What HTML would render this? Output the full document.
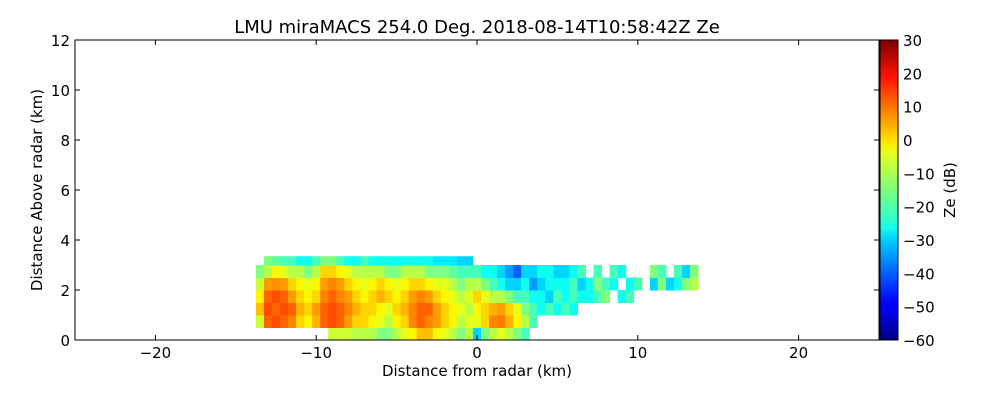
<!DOCTYPE html>
<html><head><meta charset="utf-8"><style>
html,body{margin:0;padding:0;background:#fff;width:1000px;height:400px;overflow:hidden}
svg text{font-family:"DejaVu Sans","Liberation Sans",sans-serif;fill:#000}
</style></head><body>
<svg id="chart" width="1000" height="400">
<defs>
<linearGradient id="jet" x1="0" y1="1" x2="0" y2="0">
<stop offset="0" stop-color="#00007f"/><stop offset="0.11" stop-color="#0000ff"/><stop offset="0.125" stop-color="#0000ff"/>
<stop offset="0.34" stop-color="#00d4ff"/><stop offset="0.375" stop-color="#1affe6"/><stop offset="0.5" stop-color="#7dff7a"/>
<stop offset="0.625" stop-color="#e6ff1a"/><stop offset="0.66" stop-color="#ffe600"/><stop offset="0.875" stop-color="#ff1300"/>
<stop offset="1" stop-color="#7f0000"/></linearGradient>
</defs>
<text x="477" y="33" font-size="18" text-anchor="middle">LMU miraMACS 254.0 Deg. 2018-08-14T10:58:42Z  Ze</text>
<g id="cells"></g>
<rect x="75" y="40" width="804" height="300" fill="none" stroke="#000" stroke-width="1"/>
<g id="axes"></g>
<rect x="880" y="40" width="18" height="300" fill="url(#jet)" stroke="#000"/>
<text x="477" y="376" font-size="15" text-anchor="middle">Distance from radar (km)</text>
<text transform="translate(42,190) rotate(-90)" font-size="15" text-anchor="middle">Distance Above radar  (km)</text>
<text transform="translate(955,190) rotate(-90)" font-size="15" text-anchor="middle">Ze (dB)</text>
</svg>
<script>
const N=null;
const xTicks=[-20,-10,0,10,20];
const yTicks=[0,2,4,6,8,10,12];
const cTicks=[30,20,10,0,-10,-20,-30,-40,-50,-60];
const colX=[-13.5,-13,-12.5,-12,-11.5,-11,-10.5,-10,-9.5,-9,-8.5,-8,-7.5,-7,-6.5,-6,-5.5,-5,-4.5,-4,-3.5,-3,-2.5,-2,-1.5,-1,-0.5,0,0.5,1,1.5,2,2.5,3,3.5,4,4.5,5,5.5,6,6.5,7,7.5,8,8.5,9,9.5,10,10.5,11,11.5,12,12.5,13,13.5];
const rowY=[0,0.5,1,1.5,2,2.5,3];
const topKm=3.35;
const ze=[
[N,-8,2,-3,-8,-15,N],[N,10,12,10,5,-10,-15],[N,12,10,12,6,-3,-18],[N,10,12,10,5,-6,-20],[N,7,10,5,0,-10,-20],
[N,0,3,0,-3,-10,-25],[N,-3,0,-3,-6,-15,-25],[N,3,5,0,-3,-10,-20],[N,10,10,7,5,0,-15],[-8,12,12,10,7,0,-15],
[-8,10,10,7,5,-3,-20],[-8,5,7,5,0,-6,-25],[-10,0,3,0,-3,-10,-25],[-10,0,0,-3,-6,-10,-20],[-10,-3,0,0,-3,-10,-25],
[-15,-6,-3,3,0,-10,-25],[-15,-10,-6,0,-3,-15,-25],[-10,-3,0,-3,-6,-15,-25],[-6,0,3,0,-3,-10,-25],[-3,7,7,5,0,-10,-25],
[2,10,10,7,0,-10,-25],[2,7,10,5,-3,-15,-25],[-3,5,5,0,-6,-15,-28],[-6,0,0,-3,-6,-15,-28],[-10,-3,-3,-6,-10,-18,-28],
[-15,-10,-6,-10,-15,-20,-30],[-10,-6,-10,-6,-10,-20,-30],[-30,-6,-3,0,-10,-20,N],[-15,0,0,-6,-15,-25,N],[-10,7,3,-10,-20,-25,N],
[-6,8,5,-10,-25,-30,N],[-10,3,0,-15,-30,-35,N],[-15,-3,-6,-20,-30,-40,N],[-20,-10,-15,-20,-25,-30,N],[N,-20,-20,-25,-35,-30,N],
[N,N,-25,-25,-30,-25,N],[N,N,-20,-30,-25,-25,N],[N,N,-25,-20,-25,-30,N],[N,N,-20,-25,-25,-30,N],[N,N,-25,-20,-20,-25,N],
[N,N,N,-25,-30,-20,N],[N,N,N,-25,-25,N,N],[N,N,N,-20,-15,-20,N],[N,N,N,-15,-20,N,N],[N,N,N,N,-25,-20,N],
[N,N,N,-25,N,-25,N],[N,N,N,-20,-25,N,N],[N,N,N,N,-20,N,N],[N,N,N,N,N,N,N],[N,N,N,N,-30,-15,N],
[N,N,N,N,-15,-20,N],[N,N,N,N,-30,N,N],[N,N,N,N,-25,-20,N],[N,N,N,N,-15,-30,N],[N,N,N,N,-10,-15,N]];
const xS=v=>477+v*16.08, yS=v=>340-v*25, cS=v=>340-(v+60)/90*300;
function jet(v){let t=(v+60)/90;t=Math.max(0,Math.min(1,t));
 const f=x=>Math.round(255*Math.max(0,Math.min(1,1.5-Math.abs(4*t-x))));
 return `rgb(${f(3)},${f(2)},${f(1)})`;}
const NS="http://www.w3.org/2000/svg";
const cells=document.getElementById('cells');
colX.forEach((cx,i)=>{rowY.forEach((ry,j)=>{const v=ze[i][j];if(v===null)return;
 const r=document.createElementNS(NS,'rect');
 
 
 const x0=xS(cx-0.25),x1=xS(cx+0.25),y0=yS(Math.min(ry+0.5,topKm)),y1=yS(ry);
 r.setAttribute('x',x0);r.setAttribute('y',y0);r.setAttribute('width',x1-x0+0.5);r.setAttribute('height',y1-y0+0.5);
 r.setAttribute('fill',jet(v));cells.appendChild(r);});});
const ax=document.getElementById('axes');
function line(x1,y1,x2,y2){const l=document.createElementNS(NS,'line');
 
 
 l.setAttribute('x1',x1);l.setAttribute('y1',y1);l.setAttribute('x2',x2);l.setAttribute('y2',y2);l.setAttribute('stroke','#000');ax.appendChild(l);}
function txt(x,y,s,a){const t=document.createElementNS(NS,'text');
 
 
 t.setAttribute('x',x);t.setAttribute('y',y);t.setAttribute('font-size','15');t.setAttribute('text-anchor',a);
 t.textContent=s;ax.appendChild(t);}
const lab=v=>v<0?'\u2212'+Math.abs(v):''+v;
xTicks.forEach(v=>{const x=xS(v);line(x,340,x,335);line(x,40,x,45);txt(x,358,lab(v),'middle');});
yTicks.forEach(v=>{const y=yS(v);line(75,y,80,y);line(879,y,874,y);txt(70,y+6,lab(v),'end');});
cTicks.forEach(v=>{const y=cS(v);line(894,y,898,y);txt(903,y+6,lab(v),'start');});
</script>
</body></html>
